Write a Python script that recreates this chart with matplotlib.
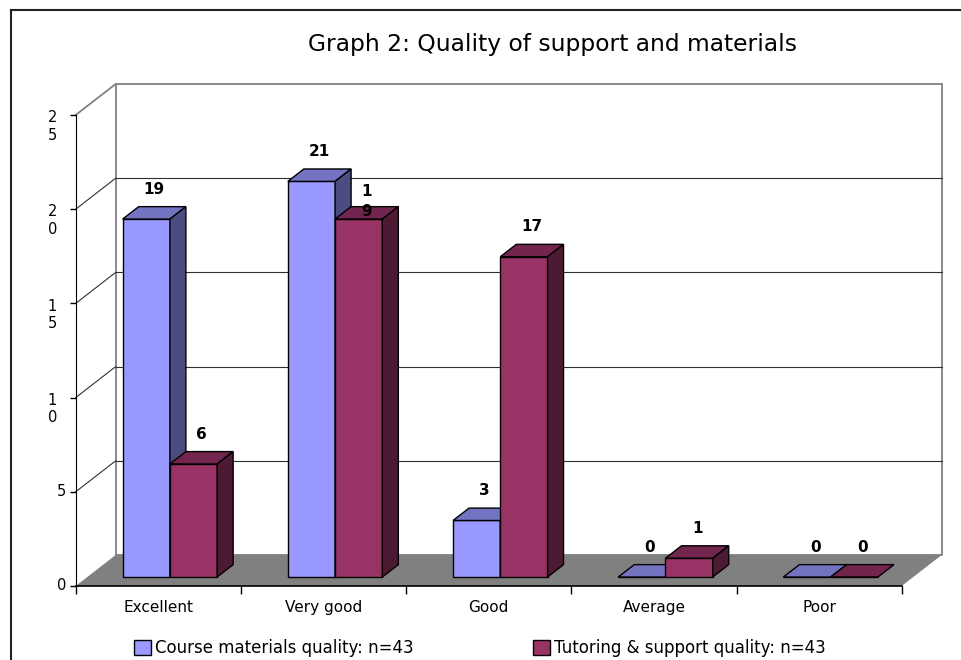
import matplotlib.pyplot as plt
import matplotlib.transforms as mtransforms
from matplotlib.patches import Polygon, Rectangle
from matplotlib.lines import Line2D

categories = ["Excellent", "Very good", "Good", "Average", "Poor"]
course_materials = [19, 21, 3, 0, 0]
tutoring_support = [6, 19, 17, 1, 0]
series_names = ["Course materials quality: n=43", "Tutoring & support quality: n=43"]
y_ticks = [0, 5, 10, 15, 20, 25]
y_tick_labels = ["0", "5", "1\n0", "1\n5", "2\n0", "2\n5"]

# front, top, side colours
blue = ("#9999FF", "#7373C2", "#4C4C80")
maroon = ("#993366", "#73264D", "#4D1A33")

# fake 3d: depth of the floor in data units, bar front/back as fraction of it
DX, DY = 0.242, 1.645
F0, F1 = 0.29, 0.69
W = 0.286

fig = plt.figure(figsize=(9.62, 6.6), dpi=100)
ax = fig.add_axes([75.7 / 962, 74 / 660, 826 / 962, 471 / 660])
ax.set_xlim(-0.5, 4.5)
ax.set_ylim(0, 25)
ax.patch.set_alpha(0)

x0, x1 = -0.5, len(categories) - 0.5

# back wall and left wall
ax.add_patch(Polygon([(x0 + DX, DY), (x1 + DX, DY), (x1 + DX, 25 + DY), (x0 + DX, 25 + DY)],
                     closed=True, facecolor="white", edgecolor="#808080", lw=1.3,
                     clip_on=False, zorder=0))
for v in y_ticks[1:-1]:
    ax.plot([x0 + DX, x1 + DX], [v + DY, v + DY], color="#303030", lw=0.8, clip_on=False, zorder=1)
    ax.plot([x0, x0 + DX], [v, v + DY], color="#303030", lw=0.8, clip_on=False, zorder=1)
ax.plot([x0, x0 + DX], [25, 25 + DY], color="#808080", lw=1.3, clip_on=False, zorder=1)

# floor
ax.add_patch(Polygon([(x0, 0), (x1, 0), (x1 + DX, DY), (x0 + DX, DY)], closed=True,
                     facecolor="#808080", edgecolor="none", clip_on=False, zorder=1))

z = [2]


def draw_bar(xl, h, colors, label):
    front, top, side = colors
    sx0, sy0 = F0 * DX, F0 * DY
    sx1, sy1 = F1 * DX, F1 * DY
    z[0] += 1
    ax.bar(xl + sx0, h, width=W, bottom=sy0, align="edge", color=front,
           edgecolor="black", lw=1, zorder=z[0], clip_on=False)
    top_face = [(xl + sx0, sy0 + h), (xl + W + sx0, sy0 + h),
                (xl + W + sx1, sy1 + h), (xl + sx1, sy1 + h)]
    side_face = [(xl + W + sx0, sy0), (xl + W + sx1, sy1),
                 (xl + W + sx1, sy1 + h), (xl + W + sx0, sy0 + h)]
    ax.add_patch(Polygon(top_face, closed=True, facecolor=top, edgecolor="black",
                         lw=1, zorder=z[0], clip_on=False))
    if h > 0:
        ax.add_patch(Polygon(side_face, closed=True, facecolor=side, edgecolor="black",
                             lw=1, zorder=z[0], clip_on=False))
    nlines = label.count("\n") + 1
    off = 17 - 9 * (nlines - 1)
    ax.annotate(label, (xl + W / 2 + (sx0 + sx1) / 2, h + (sy0 + sy1) / 2),
                xytext=(0, off), textcoords="offset points", ha="center", va="center",
                fontsize=11, fontweight="bold", linespacing=1.45, zorder=50)


for i in range(len(categories)):
    draw_bar(i - W, course_materials[i], blue, str(course_materials[i]))
    lab = str(tutoring_support[i])
    if tutoring_support[i] == 19:
        lab = "1\n9"  # excel wrapped this one
    draw_bar(i, tutoring_support[i], maroon, lab)

# axes
for s in ["top", "right"]:
    ax.spines[s].set_visible(False)
ax.spines["left"].set_color("black")
ax.spines["bottom"].set_color("black")
ax.spines["bottom"].set_linewidth(1.2)
ax.spines["left"].set_zorder(40)
ax.spines["bottom"].set_zorder(40)

ax.set_xticks(range(len(categories)))
ax.set_xticklabels(categories, fontsize=11)
ax.set_xticks([i - 0.5 for i in range(len(categories) + 1)], minor=True)
ax.tick_params(axis="x", which="major", length=0, pad=10)
ax.tick_params(axis="x", which="minor", length=6, width=1, color="black")

ax.set_yticks(y_ticks)
ax.set_yticklabels([])
ax.tick_params(axis="y", length=4.5, width=1, color="black")
for v, lab in zip(y_ticks, y_tick_labels):
    if "\n" in lab:
        tr = ax.get_yaxis_transform() + mtransforms.ScaledTranslation(-0.235, -0.115, fig.dpi_scale_trans)
        ax.text(0, v, lab, transform=tr, ha="center", va="center", fontsize=10.5, linespacing=1.2)
    else:
        tr = ax.get_yaxis_transform() + mtransforms.ScaledTranslation(-0.095, 0, fig.dpi_scale_trans)
        ax.text(0, v, lab, transform=tr, ha="right", va="center", fontsize=10.5)

fig.text(553 / 962, 1 - 44 / 660, "Graph 2: Quality of support and materials",
         ha="center", va="center", fontsize=16.8)

handles = [Rectangle((0, 0), 1, 1, facecolor=blue[0], edgecolor="black", lw=1),
           Rectangle((0, 0), 1, 1, facecolor=maroon[0], edgecolor="black", lw=1)]
fig.legend(handles, series_names, loc="center", bbox_to_anchor=(480 / 962, 12 / 660),
           ncol=2, frameon=False, fontsize=12, handlelength=1.0, handleheight=1.0,
           handletextpad=0.25, columnspacing=7.2, borderpad=0)

# outer border (left and top only are visible)
fig.add_artist(Line2D([11 / 962, 11 / 962], [0, 1 - 10 / 660], transform=fig.transFigure,
                      color="#222222", lw=1.5))
fig.add_artist(Line2D([11 / 962, 1], [1 - 10 / 660, 1 - 10 / 660], transform=fig.transFigure,
                      color="#222222", lw=1.5))

fig.savefig("out.png", dpi=100)
